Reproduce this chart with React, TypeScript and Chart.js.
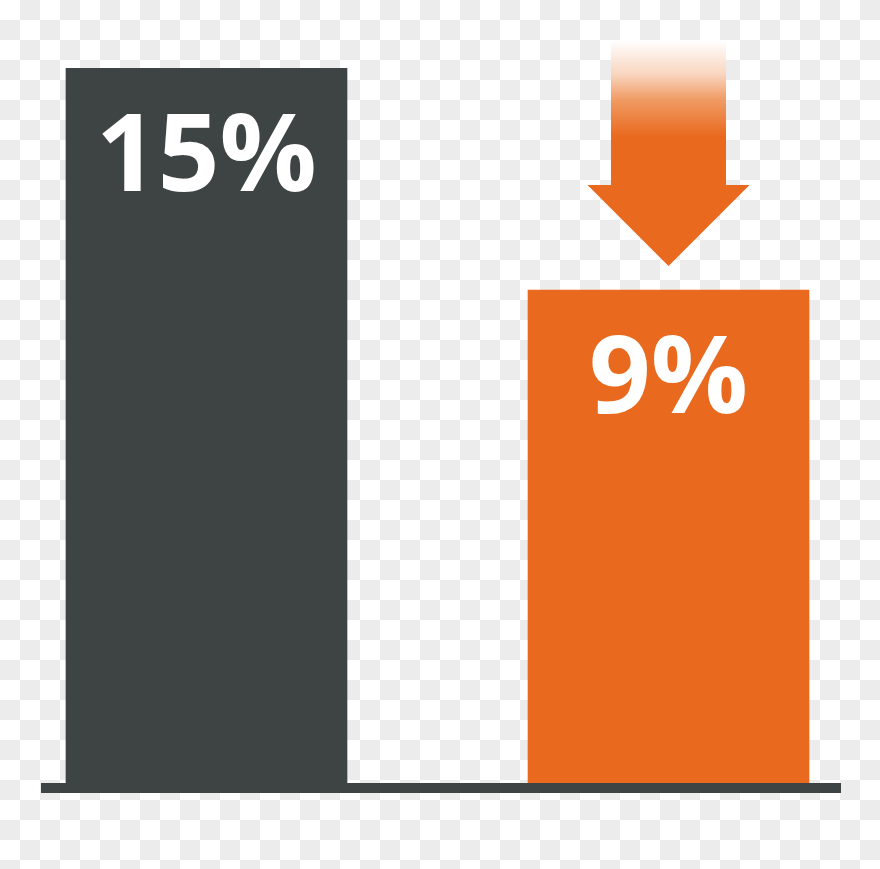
import React, { useRef, useEffect } from 'react'
import { Chart, registerables } from 'chart.js'

Chart.register(...registerables)

const CATEGORIES = ['Before', 'After']
const VALUES = [15, 9]
const BAR_COLORS = ['#3d4443', '#e9691e']
const Y_MIN = -4.45 // bars grow up from the baseline, which sits below zero

// white percentage label near the top of each bar
const barLabels = {
  id: 'barLabels',
  afterDatasetsDraw(chart: any) {
    const { ctx } = chart
    const meta = chart.getDatasetMeta(0)
    ctx.save()
    ctx.fillStyle = '#ffffff'
    ctx.textAlign = 'center'
    ctx.textBaseline = 'alphabetic'
    ctx.font = '700 108px "Open Sans"'
    meta.data.forEach((bar: any, i: number) => {
      ctx.fillText(VALUES[i] + '%', bar.x, bar.y + 123)
    })
    ctx.restore()
  },
}

// down arrow above the second bar, fading to white at the top
const dropArrow = {
  id: 'dropArrow',
  afterDatasetsDraw(chart: any) {
    const { ctx } = chart
    const bar: any = chart.getDatasetMeta(0).data[1]
    if (!bar) return
    const cx = bar.x
    const tipY = bar.y - 24
    const headY = bar.y - 105
    const topY = bar.y - 250
    const shaftHalf = 57.5
    const headHalf = 81

    const grad = ctx.createLinearGradient(0, topY, 0, bar.y - 153)
    grad.addColorStop(0, '#ffffff')
    grad.addColorStop(0.35, '#f9d6c0')
    grad.addColorStop(0.62, '#f09a62')
    grad.addColorStop(1, '#e9691e')

    ctx.save()
    ctx.fillStyle = grad
    ctx.beginPath()
    ctx.moveTo(cx - shaftHalf, topY)
    ctx.lineTo(cx + shaftHalf, topY)
    ctx.lineTo(cx + shaftHalf, headY)
    ctx.lineTo(cx + headHalf, headY)
    ctx.lineTo(cx, tipY)
    ctx.lineTo(cx - headHalf, headY)
    ctx.lineTo(cx - shaftHalf, headY)
    ctx.closePath()
    ctx.fill()
    ctx.restore()
  },
}

const App: React.FC = () => {
  const canvasRef = useRef<HTMLCanvasElement>(null)

  useEffect(() => {
    if (!canvasRef.current) return
    const ctx = canvasRef.current.getContext('2d')
    if (!ctx) return

    let chart = Chart.getChart(canvasRef.current)
    if (chart) chart.destroy()

    chart = new Chart(ctx, {
      type: 'bar',
      data: {
        datasets: [
          {
            label: 'Rate',
            data: CATEGORIES.map((c, i) => ({ x: i, y: VALUES[i] })),
            backgroundColor: BAR_COLORS,
            borderWidth: 0,
            barThickness: 281,
            base: Y_MIN,
          },
        ],
      },
      options: {
        responsive: false,
        animation: false,
        devicePixelRatio: 1,
        layout: { padding: { top: 68, bottom: 81, left: 46, right: 40 } },
        plugins: {
          legend: { display: false },
          tooltip: { enabled: false },
        },
        scales: {
          x: {
            type: 'linear',
            offset: false,
            min: -0.3474,
            max: 1.3712,
            grid: { display: false, drawTicks: false },
            ticks: { display: false },
            // baseline drawn over the bar feet
            border: { display: true, color: '#3d4443', width: 10, z: 1 },
          },
          y: {
            display: false,
            min: Y_MIN,
            max: 15,
          },
        },
      },
      plugins: [dropArrow, barLabels],
    })

    return () => {
      if (chart) chart.destroy()
    }
  }, [])

  return (
    <div
      style={{
        position: 'fixed',
        top: 0,
        left: 0,
        width: 880,
        height: 869,
        background:
          'repeating-conic-gradient(#ececec 0 25%, #ffffff 0 50%) 0 0 / 40px 40px',
      }}
    >
      <canvas ref={canvasRef} width={880} height={869} style={{ display: 'block' }} />
    </div>
  )
}

export default App
